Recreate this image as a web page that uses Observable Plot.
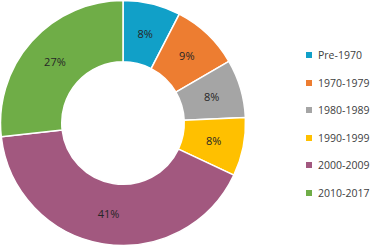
<!DOCTYPE html>
<html>
<head>
<meta charset="utf-8">
<script src="https://cdn.jsdelivr.net/npm/d3@7"></script>
<script src="https://cdn.jsdelivr.net/npm/@observablehq/plot@0.6"></script>
<style>
  html, body { margin: 0; padding: 0; background: #fff; }
  #wrap { position: relative; width: 371px; height: 246px; font-family: "Open Sans", sans-serif; }
  #legend { position: absolute; left: 306px; top: 0; }
  .item { position: absolute; left: 0; white-space: nowrap; font-size: 10.5px; color: #404040; line-height: 12px; }
  .sw { display: inline-block; width: 6px; height: 6px; margin-right: 6px; vertical-align: 1px; }
</style>
</head>
<body>
<div id="wrap"><div id="chart"></div><div id="legend"></div></div>
<script>
const categories = ["Pre-1970", "1970-1979", "1980-1989", "1990-1999", "2000-2009", "2010-2017"];
const shares = [7.6, 9.0, 7.7, 7.7, 41.2, 26.8];
const colors = ["#11a0c8", "#ed7d31", "#a5a5a5", "#ffc000", "#a2587f", "#6fad47"];
const labels = ["8%", "9%", "8%", "8%", "41%", "27%"];

const data = categories.map((c, i) => ({category: c, share: shares[i], label: labels[i]}));
const pie = d3.pie().value(d => d.share).sort(null)(data);
const rIn = 0.5, rOut = 1;
const slices = pie.map(p => {
  const mid = (p.startAngle + p.endAngle) / 2;
  const rm = (rIn + rOut) / 2;
  return {...p.data, startAngle: p.startAngle, endAngle: p.endAngle, cx: Math.sin(mid) * rm, cy: Math.cos(mid) * rm};
});

const chart = Plot.plot({
  width: 371,
  height: 246,
  margin: 0,
  x: {domain: [-1, 1], range: [0.5, 245.5], axis: null},
  y: {domain: [-1, 1], range: [245.5, 0.5], axis: null},
  color: {domain: categories, range: colors},
  marks: [
    (index, scales) => {
      const cx = scales.x(0), cy = scales.y(0);
      const R = scales.x(1) - scales.x(0);
      const arc = d3.arc().innerRadius(R * rIn).outerRadius(R * rOut);
      const g = d3.create("svg:g").attr("transform", `translate(${cx},${cy})`);
      g.selectAll("path").data(slices).join("path")
        .attr("d", d => arc(d))
        .attr("fill", d => scales.color(d.category))
        .attr("stroke", "#fff")
        .attr("stroke-width", 1.5)
        .attr("stroke-linejoin", "round");
      return g.node();
    },
    Plot.text(slices, {x: "cx", y: "cy", text: "label", fill: "#262626", fontSize: 11, fontFamily: "Open Sans, sans-serif"})
  ]
});
document.getElementById("chart").appendChild(chart);

const legend = document.getElementById("legend");
categories.forEach((c, i) => {
  const div = document.createElement("div");
  div.className = "item";
  div.style.top = (49 + i * 27.5) + "px";
  div.innerHTML = `<span class="sw" style="background:${colors[i]}"></span>${c}`;
  legend.appendChild(div);
});
</script>
</body>
</html>
